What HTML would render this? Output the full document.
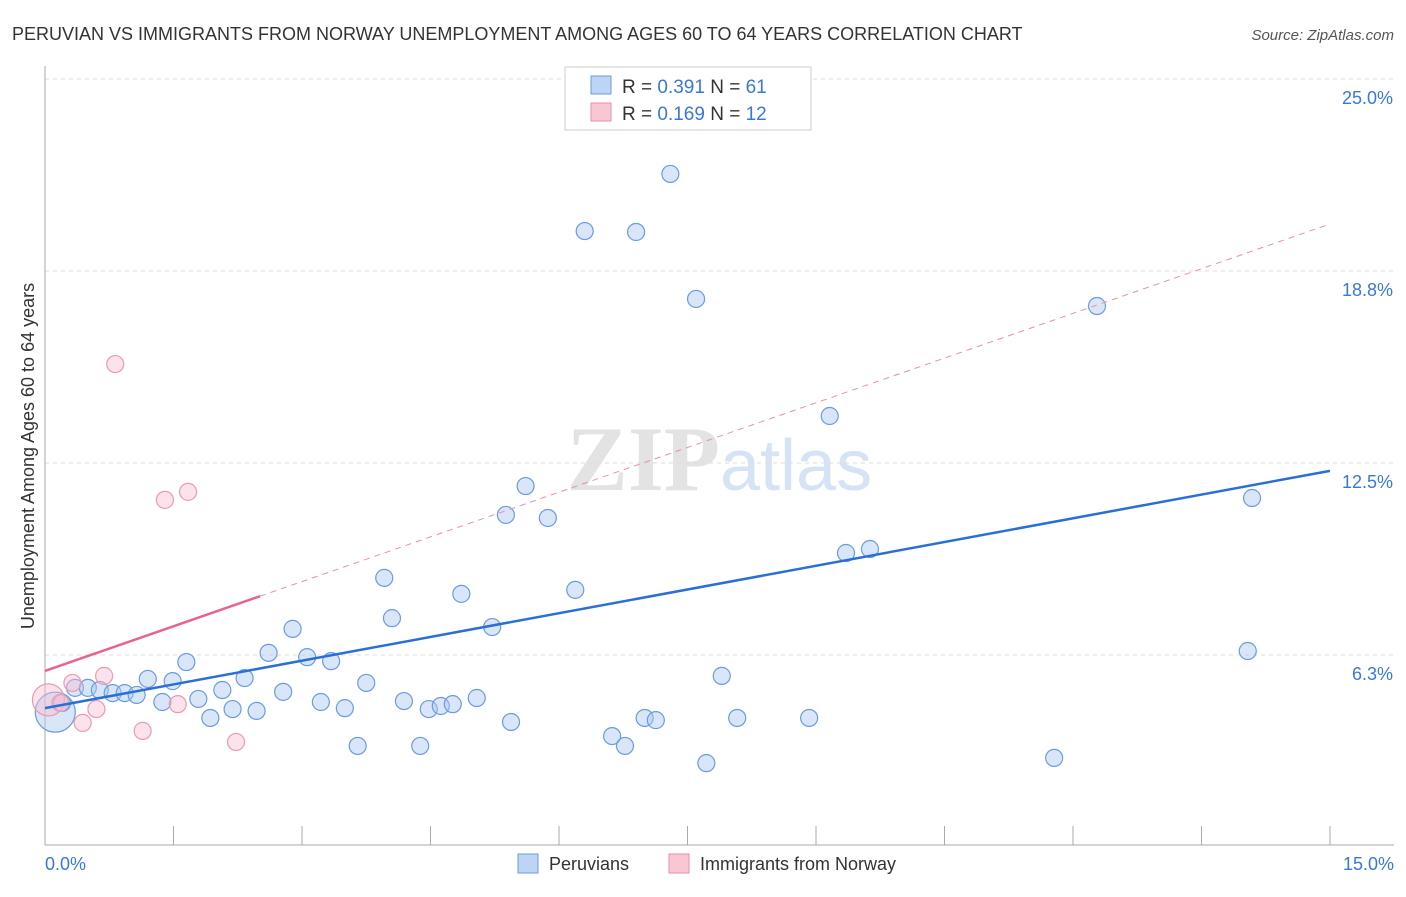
<!DOCTYPE html>
<html><head><meta charset="utf-8"><style>
body{margin:0;background:#fff;font-family:"Liberation Sans",sans-serif;}
</style></head><body>
<svg width="1406" height="892" xmlns="http://www.w3.org/2000/svg">
<text x="12" y="40" font-size="18" fill="#333">PERUVIAN VS IMMIGRANTS FROM NORWAY UNEMPLOYMENT AMONG AGES 60 TO 64 YEARS CORRELATION CHART</text>
<text x="1394" y="40" font-size="15" fill="#555" font-style="italic" text-anchor="end">Source: ZipAtlas.com</text>
<text x="720" y="490" font-size="92" fill="#e3e3e3" text-anchor="end" font-family="Liberation Serif" font-weight="bold">ZIP</text>
<text x="720" y="490" font-size="72" fill="#d5e3f5">atlas</text>
<g id="grid"></g><g id="axes"></g><g id="marks"></g>
<text transform="translate(34,456) rotate(-90)" font-size="18" fill="#333" text-anchor="middle">Unemployment Among Ages 60 to 64 years</text>
<text x="45" y="870" font-size="18" fill="#3a78d8">0.0%</text>
<text x="1394" y="870" font-size="18" fill="#3a78d8" text-anchor="end">15.0%</text>
<g>
<rect x="565" y="67" width="246" height="63" fill="#fff" stroke="#ccc"/>
<rect x="591" y="76" width="20" height="18" fill="#bcd4f5" stroke="#6b9be0"/>
<rect x="591" y="103" width="20" height="18" fill="#f9c6d4" stroke="#e98fab"/>
<text x="622" y="93" font-size="19" fill="#333">R = <tspan fill="#3a78d8">0.391</tspan>   N = <tspan fill="#3a78d8">61</tspan></text>
<text x="622" y="120" font-size="19" fill="#333">R = <tspan fill="#3a78d8">0.169</tspan>   N = <tspan fill="#3a78d8">12</tspan></text>
</g>
<g>
<rect x="518" y="854" width="20" height="19" fill="#bcd4f5" stroke="#6b9be0"/>
<text x="549" y="870" font-size="18" fill="#333">Peruvians</text>
<rect x="669" y="854" width="20" height="19" fill="#f9c6d4" stroke="#e98fab"/>
<text x="700" y="870" font-size="18" fill="#333">Immigrants from Norway</text>
</g>
</svg>
<script>
const yTicks=[25,18.75,12.5,6.25];
const yTickLabels=["25.0%","18.8%","12.5%","6.3%"];
const xTicks=[0,1.5,3,4.5,6,7.5,9,10.5,12,13.5,15];
const peruX=[0.12,0.20,0.35,0.50,0.64,0.79,0.93,1.07,1.20,1.37,1.49,1.65,1.79,1.93,2.07,2.19,2.33,2.47,2.61,2.78,2.89,3.06,3.22,3.34,3.50,3.65,3.75,3.96,4.05,4.19,4.38,4.48,4.62,4.76,4.86,5.04,5.22,5.38,5.44,5.61,5.87,6.19,6.30,6.62,6.77,6.90,7.00,7.13,7.30,7.60,7.72,7.90,8.08,8.92,9.16,9.35,9.63,11.78,12.28,14.04,14.09];
const peruY=[4.39,4.69,5.18,5.18,5.11,5.01,5.01,4.95,5.47,4.72,5.40,6.02,4.82,4.20,5.11,4.49,5.50,4.43,6.32,5.05,7.10,6.18,4.72,6.05,4.52,3.29,5.34,8.76,7.45,4.75,3.29,4.49,4.59,4.65,8.24,4.85,7.16,10.81,4.07,11.75,10.71,8.37,20.05,3.61,3.29,20.02,4.20,4.13,21.91,17.84,2.73,5.57,4.20,4.20,14.03,9.57,9.70,2.90,17.61,6.38,11.36];
const norX=[0.04,0.18,0.32,0.44,0.60,0.69,0.82,1.14,1.40,1.55,1.67,2.23];
const norY=[4.79,4.69,5.34,4.04,4.49,5.57,15.72,3.78,11.30,4.65,11.56,3.42];
const peruTrend=[4.52,0.515];
const norTrend=[5.73,0.97];
const X0=45,X1=1330,Y0=847;
const xs=v=>X0+v/15*(X1-X0);
const ys=v=>Y0-v*30.72;
const NS="http://www.w3.org/2000/svg";
function mk(parent,tag,attrs){const e=document.createElementNS(NS,tag);for(const k in attrs)e.setAttribute(k,attrs[k]);document.getElementById(parent).appendChild(e);return e;}
yTicks.forEach((t,i)=>{
 const l=mk('grid','line',{x1:45,x2:1394,y1:ys(t),y2:ys(t),stroke:'#ddd','stroke-dasharray':'4,4'});
 
 
 const tx=mk('grid','text',{x:1393,y:ys(t)+25,'font-size':18,fill:'#3a78d8','text-anchor':'end'});
 tx.textContent=yTickLabels[i];
 
 
});
const ax=mk('axes','line',{x1:45,x2:45,y1:66,y2:845,stroke:'#aaa'});


const bx=mk('axes','line',{x1:45,x2:1394,y1:845,y2:845,stroke:'#aaa'});


xTicks.forEach(t=>{
 const l=mk('axes','line',{x1:xs(t),x2:xs(t),y1:826,y2:845,stroke:'#aaa'});
 
 
});
peruX.forEach((x,i)=>{
 const c=mk('marks','circle',{cx:xs(x),cy:ys(peruY[i]),r:i==0?20:8.5,fill:'rgba(170,200,240,0.45)',stroke:'#6b9be0','stroke-width':1.2});
 
 
});
norX.forEach((x,i)=>{
 const c=mk('marks','circle',{cx:xs(x),cy:ys(norY[i]),r:i==0?16:8.5,fill:'rgba(248,190,208,0.45)',stroke:'#eb9ab3','stroke-width':1.2});
 
 
});
const pd=mk('marks','line',{x1:xs(2.51),y1:ys(norTrend[0]+norTrend[1]*2.51),x2:xs(15),y2:ys(norTrend[0]+norTrend[1]*15),stroke:'#e98fab','stroke-dasharray':'6,5','stroke-width':1});


const ps=mk('marks','line',{x1:xs(0),y1:ys(norTrend[0]),x2:xs(2.51),y2:ys(norTrend[0]+norTrend[1]*2.51),stroke:'#e8638e','stroke-width':2.5});


const bl=mk('marks','line',{x1:xs(0),y1:ys(peruTrend[0]),x2:xs(15),y2:ys(peruTrend[0]+peruTrend[1]*15),stroke:'#2a6fd6','stroke-width':2.5});


</script>
</body></html>
